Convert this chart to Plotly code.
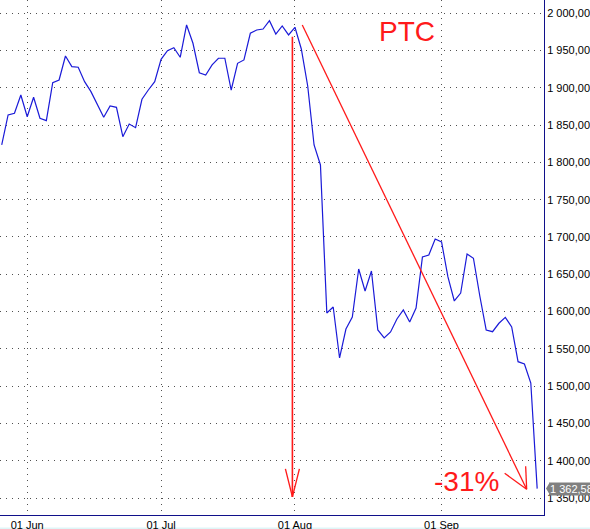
import plotly.graph_objects as go

# ---- data ----
close = [
    1823.4, 1863.6, 1865.9, 1890.4, 1861.3, 1887.4, 1859.2, 1856.0, 1906.9, 1910.6,
    1942.7, 1928.4, 1927.6, 1908.3, 1894.9, 1877.0, 1860.5, 1875.7, 1873.9, 1834.5,
    1851.5, 1846.6, 1884.7, 1897.1, 1908.3, 1938.3, 1949.8, 1953.9, 1941.0, 1984.3,
    1959.8, 1920.3, 1917.3, 1930.7, 1939.7, 1939.7, 1897.1, 1932.9, 1937.4, 1973.2,
    1977.6, 1978.9, 1990.1, 1972.2, 1983.0, 1970.9, 1981.2, 1952.1, 1902.5, 1823.4,
    1796.6, 1598.1, 1606.1, 1537.8, 1576.6, 1592.7, 1657.1, 1627.6, 1654.4, 1575.3,
    1564.6, 1572.6, 1590.1, 1602.1, 1586.0, 1604.8, 1673.2, 1675.9, 1697.3, 1693.3,
    1646.4, 1614.2, 1624.9, 1677.2, 1671.5, 1620.9, 1575.3, 1573.0, 1584.3, 1592.3,
    1579.3, 1532.8, 1529.7, 1504.2, 1362.58,
]
day_index = list(range(len(close)))

month_tick_index = [4, 25, 46, 69]
month_tick_labels = ["01 Jun", "01 Jul", "01 Aug", "01 Sep"]
price_ticks = list(range(1350, 2001, 50))

title_text = "PTC"
drop_text = "-31%"

# arrows drawn on the chart (data coordinates)
vertical_arrow = dict(x=45.6, y_top=1968.6, y_tip=1351.4)
diagonal_arrow = dict(x_start=47.15, y_start=1984.3, x_tip=82.35, y_tip=1361.7)

RED = "#ff1a1a"
BLUE = "#1a1ad8"
NAVY = "#10108a"
GRID = "#505050"
FONT = "Liberation Sans"


def fmt(v):
    s = f"{v:,.2f}"
    return s.replace(",", " ").replace(".", ",")


fig = go.Figure()
fig.add_trace(go.Scatter(
    x=day_index, y=close, mode="lines",
    line=dict(color=BLUE, width=1.2),
    hoverinfo="skip", showlegend=False,
))

shapes = []
# vertical arrow
shapes.append(dict(type="line", xref="x", yref="y",
                   x0=vertical_arrow["x"], x1=vertical_arrow["x"],
                   y0=vertical_arrow["y_top"], y1=vertical_arrow["y_tip"],
                   line=dict(color=RED, width=1.6)))
for dx, dy in [(-7, 28), (7, 28)]:
    shapes.append(dict(type="line", xref="x", yref="y",
                       xsizemode="pixel", ysizemode="pixel",
                       xanchor=vertical_arrow["x"], yanchor=vertical_arrow["y_tip"],
                       x0=0, y0=0, x1=dx, y1=dy,
                       line=dict(color=RED, width=1.4)))
# diagonal arrow
shapes.append(dict(type="line", xref="x", yref="y",
                   x0=diagonal_arrow["x_start"], y0=diagonal_arrow["y_start"],
                   x1=diagonal_arrow["x_tip"], y1=diagonal_arrow["y_tip"],
                   line=dict(color=RED, width=1.3)))
for dx, dy in [(-22, 16), (-1, 23)]:
    shapes.append(dict(type="line", xref="x", yref="y",
                       xsizemode="pixel", ysizemode="pixel",
                       xanchor=diagonal_arrow["x_tip"], yanchor=diagonal_arrow["y_tip"],
                       x0=0, y0=0, x1=dx, y1=dy,
                       line=dict(color=RED, width=1.3)))
# pointer of last value label
shapes.append(dict(type="path", xref="paper", yref="y",
                   xsizemode="pixel", ysizemode="pixel",
                   xanchor=1, yanchor=close[-1],
                   path="M 2,0 L 6,6.5 L 6,-6.5 Z",
                   fillcolor="#808080", line=dict(width=0)))
# thin cyan strip at the bottom
shapes.append(dict(type="rect", xref="paper", yref="paper",
                   x0=-0.01, x1=1.1, y0=-0.03, y1=-0.0245,
                   fillcolor="#dff6f8", line=dict(width=0), layer="below"))

annotations = [
    dict(text=title_text, x=0.748, y=0.939, xref="paper", yref="paper",
         xanchor="center", yanchor="middle",
         showarrow=False, font=dict(family=FONT, size=28, color=RED)),
    dict(text=drop_text, x=0.858, y=0.066, xref="paper", yref="paper",
         xanchor="center", yanchor="middle",
         showarrow=False, font=dict(family=FONT, size=28, color=RED)),
    dict(text=fmt(close[-1]), x=1, xshift=5, y=close[-1], xref="paper", yref="y",
         xanchor="left", yanchor="middle", showarrow=False,
         bgcolor="#808080", borderpad=0,
         font=dict(family=FONT, size=11, color="#ffffff")),
]

fig.update_layout(
    width=590, height=529,
    margin=dict(l=0, r=46, t=0, b=14, autoexpand=False),
    paper_bgcolor="white", plot_bgcolor="white",
    separators=", ",
    showlegend=False,
    shapes=shapes,
    annotations=annotations,
    font=dict(family=FONT, size=11, color="black"),
)
fig.update_xaxes(
    range=[-0.27, 85.07],
    tickvals=month_tick_index, ticktext=month_tick_labels,
    showgrid=True, gridcolor=GRID, gridwidth=1, griddash="1px,5px",
    showline=True, linecolor=NAVY, linewidth=1,
    ticks="", ticklen=0, zeroline=False, automargin=False,
    tickfont=dict(family=FONT, size=11, color="black"),
)
fig.update_yaxes(
    range=[1327.2, 2017.8], side="right",
    tickvals=price_ticks, ticktext=[fmt(v) for v in price_ticks],
    showgrid=True, gridcolor=GRID, gridwidth=1, griddash="1px,5px",
    showline=True, linecolor=NAVY, linewidth=1,
    ticks="", ticklen=0, zeroline=False, automargin=False,
    tickfont=dict(family=FONT, size=11, color="black"),
)

fig.write_html(
    "out.html",
    config={"displayModeBar": False},
    post_script="document.body.style.margin='0px';document.body.style.padding='0px';",
)
